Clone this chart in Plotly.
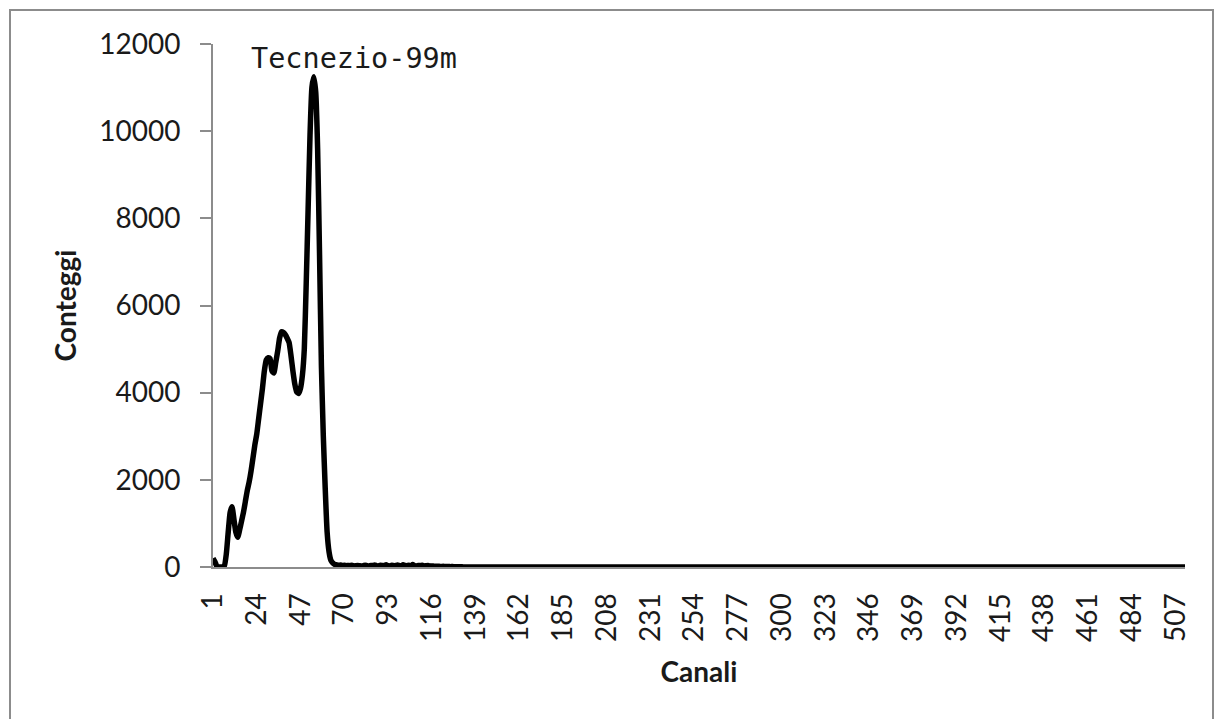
import plotly.graph_objects as go

# Counts per channel (channels 1..512)
counts_peak = [
    200, 120, 20, 0, 0, 0, 30, 300, 800, 1250,          # 1-10
    1380, 1100, 800, 680, 850, 1050, 1250, 1500, 1750, 1950,   # 11-20
    2200, 2500, 2800, 3050, 3400, 3750, 4100, 4500, 4750, 4800,  # 21-30
    4780, 4500, 4450, 4700, 4950, 5250, 5400, 5380, 5330, 5250,  # 31-40
    5150, 4850, 4500, 4200, 4020, 3980, 4100, 4400, 5000, 6500,  # 41-50
    8200, 9900, 11000, 11250, 10900, 9600, 7200, 4600, 3000, 1800,  # 51-60
    800, 350, 150, 90, 60,                                # 61-65
]
counts_low = [
    50, 40, 45, 35, 40, 30, 35, 30, 40, 25,     # 66-75
    30, 35, 30, 25, 30, 40, 30, 25, 35, 30,     # 76-85
    45, 30, 25, 40, 35, 30, 50, 30, 25, 40,     # 86-95
    30, 35, 45, 30, 25, 50, 35, 30, 40, 25,     # 96-105
    55, 30, 25, 35, 30, 40, 25, 30, 35, 20,     # 106-115
    25, 20, 15, 20, 15, 10, 15, 10, 12, 10,     # 116-125
    8, 10, 6, 8, 5, 4, 3,                       # 126-132
]
counts_tail = [  # 133-512
    0, 0, 0, 0, 0, 0, 0, 0, 0, 0, 0, 0, 0, 0, 0, 0, 0, 0, 0, 0,
    0, 0, 0, 0, 0, 0, 0, 0, 0, 0, 0, 0, 0, 0, 0, 0, 0, 0, 0, 0,
    0, 0, 0, 0, 0, 0, 0, 0, 0, 0, 0, 0, 0, 0, 0, 0, 0, 0, 0, 0,
    0, 0, 0, 0, 0, 0, 0, 0, 0, 0, 0, 0, 0, 0, 0, 0, 0, 0, 0, 0,
    0, 0, 0, 0, 0, 0, 0, 0, 0, 0, 0, 0, 0, 0, 0, 0, 0, 0, 0, 0,
    0, 0, 0, 0, 0, 0, 0, 0, 0, 0, 0, 0, 0, 0, 0, 0, 0, 0, 0, 0,
    0, 0, 0, 0, 0, 0, 0, 0, 0, 0, 0, 0, 0, 0, 0, 0, 0, 0, 0, 0,
    0, 0, 0, 0, 0, 0, 0, 0, 0, 0, 0, 0, 0, 0, 0, 0, 0, 0, 0, 0,
    0, 0, 0, 0, 0, 0, 0, 0, 0, 0, 0, 0, 0, 0, 0, 0, 0, 0, 0, 0,
    0, 0, 0, 0, 0, 0, 0, 0, 0, 0, 0, 0, 0, 0, 0, 0, 0, 0, 0, 0,
    0, 0, 0, 0, 0, 0, 0, 0, 0, 0, 0, 0, 0, 0, 0, 0, 0, 0, 0, 0,
    0, 0, 0, 0, 0, 0, 0, 0, 0, 0, 0, 0, 0, 0, 0, 0, 0, 0, 0, 0,
    0, 0, 0, 0, 0, 0, 0, 0, 0, 0, 0, 0, 0, 0, 0, 0, 0, 0, 0, 0,
    0, 0, 0, 0, 0, 0, 0, 0, 0, 0, 0, 0, 0, 0, 0, 0, 0, 0, 0, 0,
    0, 0, 0, 0, 0, 0, 0, 0, 0, 0, 0, 0, 0, 0, 0, 0, 0, 0, 0, 0,
    0, 0, 0, 0, 0, 0, 0, 0, 0, 0, 0, 0, 0, 0, 0, 0, 0, 0, 0, 0,
    0, 0, 0, 0, 0, 0, 0, 0, 0, 0, 0, 0, 0, 0, 0, 0, 0, 0, 0, 0,
    0, 0, 0, 0, 0, 0, 0, 0, 0, 0, 0, 0, 0, 0, 0, 0, 0, 0, 0, 0,
    0, 0, 0, 0, 0, 0, 0, 0, 0, 0, 0, 0, 0, 0, 0, 0, 0, 0, 0, 0,
]
counts = counts_peak + counts_low + counts_tail
channels = list(range(1, len(counts) + 1))

x_tickvals = [1, 24, 47, 70, 93, 116, 139, 162, 185, 208, 231, 254, 277, 300,
              323, 346, 369, 392, 415, 438, 461, 484, 507]
x_ticktext = [str(v) for v in x_tickvals]
y_tickvals = [0, 2000, 4000, 6000, 8000, 10000, 12000]
y_ticktext = ["0", "2000", "4000", "6000", "8000", "10000", "12000"]

label = "Tecnezio-99m"
x_title = "Canali"
y_title = "Conteggi"

# page has an 8px body margin; figure coordinates = page coordinates - 8
OFF = 8
W, H = 1223 - 2 * OFF, 727 - 2 * OFF
L, T = 213 - OFF, 44 - OFF
R = W - (1185 - OFF)
B = H - (567 - OFF)
pw, ph = W - L - R, H - T - B

def px(xp):  # page pixel x -> paper
    return (xp - OFF - L) / pw

def py(yp):  # page pixel y -> paper
    return (H - B - (yp - OFF)) / ph

fig = go.Figure()
fig.add_trace(go.Scatter(x=channels, y=counts, mode="lines",
                         line=dict(color="black", width=5.5, shape="spline", smoothing=0.5),
                         hoverinfo="x+y", showlegend=False))

tick_font = dict(family="Lato, Open Sans, sans-serif", size=28, color="#1a1a1a")
title_font = dict(family="Lato, Open Sans, sans-serif", size=28, color="#1a1a1a", weight="bold")

fig.update_layout(
    width=W, height=H,
    margin=dict(l=L, r=R, t=T, b=B),
    paper_bgcolor="white", plot_bgcolor="white",
    xaxis=dict(range=[1, 512], tickvals=x_tickvals, ticktext=x_ticktext,
               tickangle=-90, tickfont=tick_font, showgrid=False, zeroline=False,
               showline=True, linecolor="#8c8c8c", linewidth=2, ticks="",
               ticklabelstandoff=13,
               title=dict(text=x_title, font=title_font, standoff=21)),
    yaxis=dict(range=[0, 12000], tickvals=y_tickvals, ticktext=y_ticktext,
               tickfont=tick_font, showgrid=False, zeroline=False,
               showline=True, linecolor="#8c8c8c", linewidth=2,
               ticks="outside", ticklen=11, tickwidth=2, tickcolor="#8c8c8c",
               ticklabelstandoff=14,
               title=dict(text=y_title, font=title_font, standoff=14)),
    shapes=[dict(type="rect", xref="paper", yref="paper",
                 x0=px(10), x1=px(1213), y0=py(760), y1=py(10),
                 line=dict(color="#8c8c8c", width=2), fillcolor="rgba(0,0,0,0)",
                 layer="below")],
    annotations=[dict(text=label, xref="paper", yref="paper",
                      x=px(249), y=py(59), xanchor="left", yanchor="middle",
                      showarrow=False,
                      font=dict(family="DejaVu Sans Mono, Liberation Mono, monospace",
                                size=28.5, color="#1a1a1a"))],
)

fig.write_html("out.html")
